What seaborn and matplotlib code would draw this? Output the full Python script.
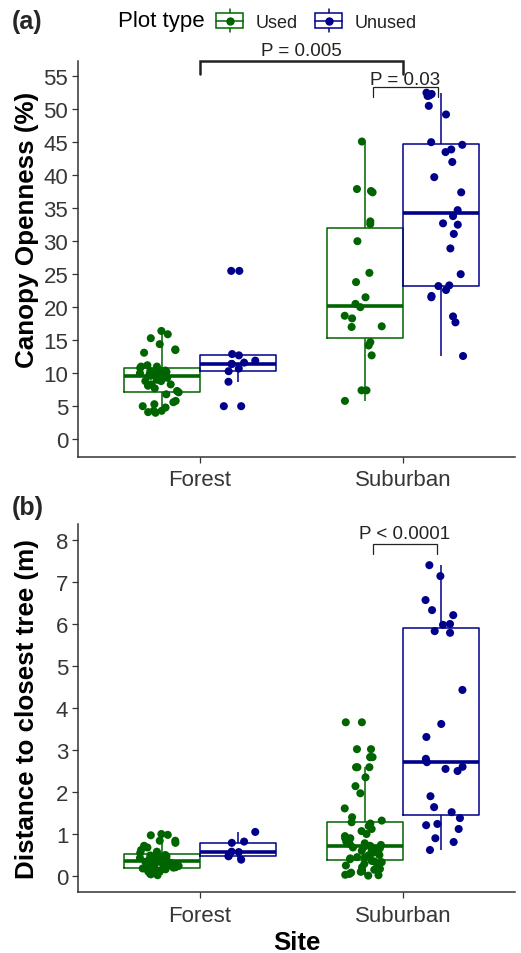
import numpy as np
import pandas as pd
import matplotlib
matplotlib.use("Agg")
import matplotlib.pyplot as plt
import seaborn as sns
from matplotlib.legend_handler import HandlerBase
from matplotlib.patches import Rectangle
from matplotlib.lines import Line2D

# ---------------- data ----------------
sites = ["Forest", "Suburban"]
plot_types = ["Used", "Unused"]
colors = {"Used": "#006400", "Unused": "#00008B"}

# Panel (a): canopy openness (%)
canopy_forest_used = [16.4, 15.9, 15.3, 14.4, 13.6, 13.5, 13.1, 11.2, 11.0, 11.0, 10.8, 10.5,
                      10.4, 10.3, 10.2, 10.1, 10.0, 9.9, 9.8, 9.7, 9.6, 9.3, 9.0, 8.8, 8.8,
                      8.3, 8.3, 8.1, 7.7, 7.3, 7.1, 6.8, 5.8, 5.6, 5.3, 5.0, 4.8, 4.3, 4.3,
                      4.1, 4.0]
canopy_forest_unused = [25.5, 25.5, 12.9, 12.7, 11.9, 11.6, 11.4, 11.4, 10.7, 10.3, 8.7, 5.0, 5.0]
canopy_suburban_used = [45.1, 37.9, 37.6, 37.4, 33.0, 32.6, 30.0, 25.2, 23.8, 21.5, 20.5,
                        20.0, 18.7, 18.3, 17.1, 17.0, 14.7, 14.2, 12.7, 7.4, 7.4, 5.8]
canopy_suburban_unused = [52.5, 52.3, 52.1, 52.0, 50.5, 49.2, 45.0, 44.6, 43.9, 43.5, 42.0,
                          39.7, 37.4, 34.7, 33.8, 32.7, 32.5, 31.1, 28.9, 25.0, 23.3, 23.2,
                          22.6, 21.7, 21.5, 18.6, 17.7, 12.6]

# Panel (b): distance to closest tree (m)
dist_forest_used = [1.00, 0.98, 0.97, 0.84, 0.84, 0.79, 0.72, 0.68, 0.62, 0.58, 0.55, 0.52,
                    0.50, 0.49, 0.47, 0.45, 0.43, 0.41, 0.40, 0.38, 0.37, 0.36, 0.35, 0.34,
                    0.33, 0.31, 0.30, 0.28, 0.27, 0.25, 0.24, 0.22, 0.21, 0.20, 0.19, 0.18,
                    0.16, 0.15, 0.13, 0.11, 0.10, 0.08, 0.06, 0.04, 0.02]
dist_forest_unused = [1.05, 0.82, 0.79, 0.58, 0.57, 0.48, 0.47, 0.39]
dist_suburban_used = [3.66, 3.66, 3.02, 3.02, 2.83, 2.83, 2.83, 2.59, 2.59, 2.59, 2.35, 2.14,
                      1.97, 1.61, 1.40, 1.32, 1.28, 1.25, 1.19, 1.12, 1.07, 1.00, 0.95, 0.90,
                      0.90, 0.86, 0.82, 0.80, 0.78, 0.76, 0.74, 0.72, 0.70, 0.70, 0.68, 0.66,
                      0.65, 0.62, 0.60, 0.58, 0.55, 0.50, 0.50, 0.47, 0.45, 0.44, 0.42, 0.40,
                      0.36, 0.35, 0.33, 0.30, 0.29, 0.25, 0.21, 0.17, 0.15, 0.12, 0.10, 0.08,
                      0.05, 0.03, 0.02, 0.01]
dist_suburban_unused = [7.40, 7.14, 6.57, 6.33, 6.21, 6.00, 5.98, 5.83, 5.79, 4.43, 3.62,
                        3.31, 2.79, 2.71, 2.60, 2.55, 2.50, 1.90, 1.64, 1.52, 1.38, 1.24,
                        1.21, 1.12, 0.90, 0.81, 0.62]

canopy_ticks = list(range(0, 60, 5))
dist_ticks = list(range(0, 9))


def make_df(groups):
    rows = []
    for (site, ptype), vals in groups.items():
        for v in vals:
            rows.append({"Site": site, "Plot type": ptype, "value": v})
    return pd.DataFrame(rows)


df_a = make_df({("Forest", "Used"): canopy_forest_used,
                ("Forest", "Unused"): canopy_forest_unused,
                ("Suburban", "Used"): canopy_suburban_used,
                ("Suburban", "Unused"): canopy_suburban_unused})
df_b = make_df({("Forest", "Used"): dist_forest_used,
                ("Forest", "Unused"): dist_forest_unused,
                ("Suburban", "Used"): dist_suburban_used,
                ("Suburban", "Unused"): dist_suburban_unused})

# ---------------- style ----------------
sns.set_style("ticks")
plt.rcParams["font.family"] = ["Liberation Sans", "DejaVu Sans"]
TXT = "#363636"

W, H = 521, 954
fig = plt.figure(figsize=(W / 100, H / 100), dpi=100)


def fx(px):
    return px / W


def fy(py):
    return 1 - py / H


ax1 = fig.add_axes([fx(78), fy(458), fx(515) - fx(78), fy(62) - fy(458)])
ax2 = fig.add_axes([fx(78), fy(893), fx(515) - fx(78), fy(525) - fy(893)])


def draw(ax, df, ticks, ylim):
    sns.boxplot(data=df, x="Site", y="value", hue="Plot type", order=sites,
                hue_order=plot_types, palette=colors, fill=False, showfliers=False,
                width=0.75, linewidth=1.1, showcaps=False, legend=False, ax=ax,
                medianprops=dict(linewidth=2.6))
    np.random.seed(3)
    sns.stripplot(data=df, x="Site", y="value", hue="Plot type", order=sites,
                  hue_order=plot_types, palette=colors, dodge=True, jitter=0.2,
                  size=5.8, linewidth=0, legend=False, ax=ax, zorder=3)
    ax.set_xlim(-0.6, 1.55)
    ax.set_ylim(*ylim)
    ax.set_yticks(ticks)
    ax.set_yticklabels([str(t) for t in ticks])
    sns.despine(ax=ax)
    for s in ["left", "bottom"]:
        ax.spines[s].set_color("#333333")
        ax.spines[s].set_linewidth(1.1)
    ax.tick_params(axis="both", length=4, width=0.9, color="#333333",
                   labelsize=16, labelcolor=TXT)
    ax.tick_params(axis="y", pad=3)
    ax.tick_params(axis="x", pad=5)


draw(ax1, df_a, canopy_ticks, (-2.7, 57.3))
draw(ax2, df_b, dist_ticks, (-0.38, 8.38))

ax1.set_xlabel("")
ax1.set_ylabel("Canopy Openness (%)", fontsize=18.7, fontweight="bold", color="black")
ax1.yaxis.set_label_coords(-0.09, 0.575)
ax2.set_xlabel("Site", fontsize=18.5, fontweight="bold", color="black", labelpad=3)
ax2.set_ylabel("Distance to closest tree (m)", fontsize=18.7, fontweight="bold", color="black")
ax2.yaxis.set_label_coords(-0.09, 0.5)


def bracket(ax, x1, x2, y, drop, text, lw, ty):
    ax.plot([x1, x1, x2, x2], [y - drop, y, y, y - drop], color="#222222", lw=lw,
            clip_on=False, solid_joinstyle="miter")
    ax.text((x1 + x2) / 2, ty, text, ha="center", va="bottom", fontsize=13.5,
            color="#222222", clip_on=False)


bracket(ax1, 0.0, 1.0, 57.3, 2.0, "P = 0.005", 1.8, 57.6)
bracket(ax1, 0.85, 1.17, 53.3, 1.5, "P = 0.03", 0.9, 53.2)
bracket(ax2, 0.85, 1.165, 7.9, 0.24, "P < 0.0001", 0.9, 7.95)

fig.text(fx(12), fy(22), "(a)", fontsize=18, fontweight="bold", va="center", ha="left")
fig.text(fx(12), fy(508), "(b)", fontsize=18, fontweight="bold", va="center", ha="left")


# legend with boxplot-like key glyphs
class BoxGlyph(HandlerBase):
    def create_artists(self, legend, orig_handle, xdescent, ydescent, width, height,
                       fontsize, trans):
        c = orig_handle.get_color()
        x0, y0 = -xdescent, -ydescent
        cx, cy = x0 + width / 2, y0 + height / 2
        wl = Line2D([cx, cx], [cy - height * 0.75, cy + height * 0.75], color=c, lw=1.1,
                    transform=trans)
        rect = Rectangle((x0, cy - height / 2), width, height, facecolor="white",
                         edgecolor=c, lw=1.1, transform=trans)
        med = Line2D([x0, x0 + width], [cy, cy], color=c, lw=1.1, transform=trans)
        dot = Line2D([cx], [cy], marker="o", ms=5, color=c, ls="", transform=trans)
        return [wl, rect, med, dot]


fig.text(fx(118), fy(22), "Plot type", fontsize=16, va="center", ha="left", color="black")
handles = [Line2D([], [], color=colors[p]) for p in plot_types]
fig.legend(handles, plot_types, loc="center left", bbox_to_anchor=(fx(216), fy(23)),
           ncol=2, frameon=False, fontsize=13, borderpad=0, borderaxespad=0,
           handlelength=1.5, handleheight=0.9, handletextpad=0.7, columnspacing=0.95,
           handler_map={Line2D: BoxGlyph()}, labelcolor="#222222")

fig.savefig("out.png", dpi=100, facecolor="white")
